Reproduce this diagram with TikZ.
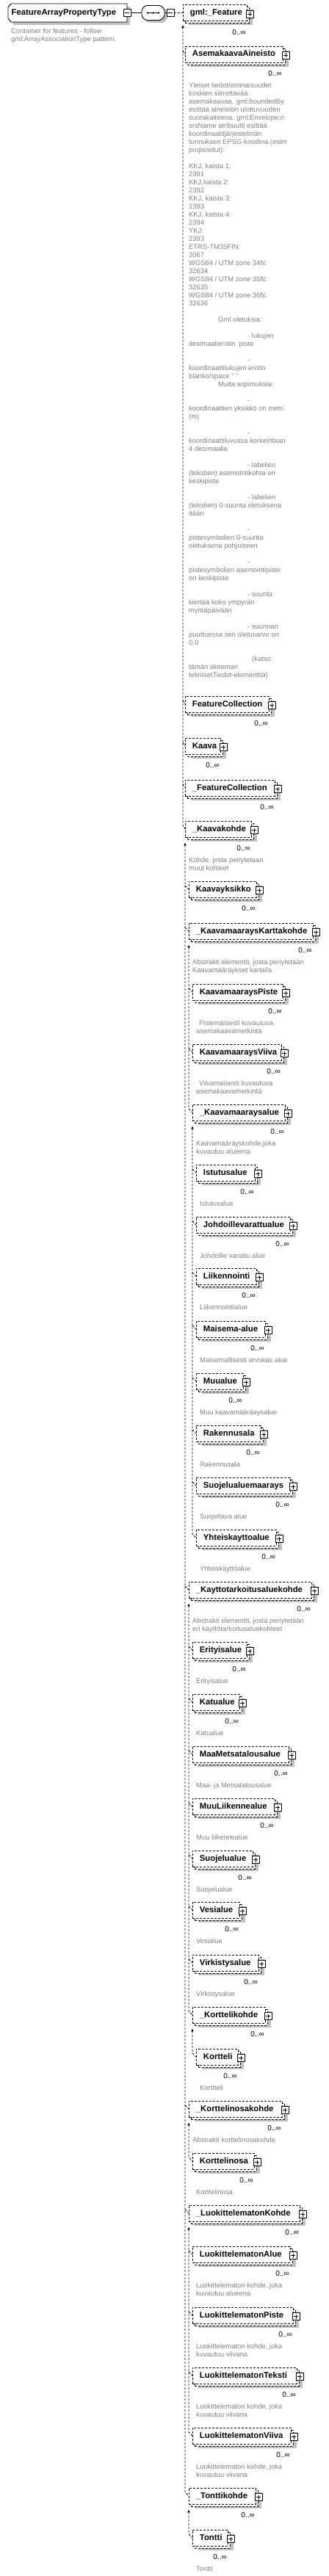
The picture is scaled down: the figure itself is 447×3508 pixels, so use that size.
\documentclass[tikz,border=0pt]{standalone}
\usepackage{fontspec}
\setmainfont{Liberation Sans}
\usetikzlibrary{arrows.meta,shadows}

\definecolor{shadowgray}{RGB}{192,192,192}
\definecolor{descgray}{RGB}{128,128,128}

\newcommand{\elemfont}{\fontsize{11.3}{13}\selectfont\bfseries}
\newcommand{\descfont}{\fontsize{9.4}{11}\selectfont}
\newcommand{\multfont}{\fontsize{10}{12}\selectfont}

\tikzset{
  conn/.style={draw, dash pattern=on 3pt off 2pt, line width=0.9pt},
  subst/.style={conn, arrows={Latex[length=4pt,width=4pt]-}},
  elem/.style={draw, fill=white, dash pattern=on 3pt off 2pt, line width=0.9pt,
    anchor=west, inner xsep=0pt, inner ysep=0pt, minimum height=22pt,
    text height=8pt, text depth=2pt, align=left, font=\elemfont,
    general shadow={fill=shadowgray, draw=none, shadow xshift=8pt, shadow yshift=-6pt},
    copy shadow={shadow xshift=3pt, shadow yshift=-3pt}},
  plusbox/.style={draw, solid, fill=white, line width=0.8pt, minimum size=10pt, inner sep=0pt,
    path picture={\draw[line width=0.8pt]
      ([xshift=2pt]path picture bounding box.west) -- ([xshift=-2pt]path picture bounding box.east)
      ([yshift=-2pt]path picture bounding box.north) -- ([yshift=2pt]path picture bounding box.south);}},
  minusbox/.style={draw, solid, fill=white, line width=0.8pt, minimum size=10pt, inner sep=0pt,
    path picture={\draw[line width=0.8pt]
      ([xshift=2pt]path picture bounding box.west) -- ([xshift=-2pt]path picture bounding box.east);}},
  mult/.style={font=\multfont, anchor=east, inner sep=0pt},
  desc/.style={font=\descfont, text=descgray, anchor=north west, inner sep=0pt, align=left},
  rootname/.style={font=\elemfont, inner sep=0pt, text height=8pt, text depth=2pt}
}

% elementti: nimi, x, y (keskikohta), leveys, teksti
\newcommand{\elem}[5]{%
  \node[elem, text width=#4pt] (#1) at (#2,#3) {\hspace*{9.5pt}#5};
  \node[plusbox] (#1-plus) at ([xshift=3pt,yshift=-1.5pt]#1.east) {};
  \node[mult] (#1-mult) at ([xshift=-2pt,yshift=-15pt]#1.south east) {0..∞};
}
\newcommand{\elemdesc}[2]{%
  \node[desc] (#1-desc) at ([xshift=5pt,yshift=-26pt]#1.south west) {\rule{0pt}{8pt}#2};
}

\begin{document}
\begin{tikzpicture}[x=1pt,y=-1pt]
\useasboundingbox (0,0) rectangle (447,3508);

% FeatureArrayPropertyType
\fill[shadowgray] (19,9) -- (177,9) -- (177,34) -- (19,34) -- (15,29) -- (15,14) -- cycle;
\draw[line width=0.9pt, fill=white] (15,5) -- (173,5) -- (173,30) -- (15,30) -- (11,25) -- (11,10) -- cycle;
\node[rootname, anchor=west] (root) at (15.5,17.5) {FeatureArrayPropertyType};
\node[minusbox] (root-minus) at (173,17.5) {};
\node[desc] (root-desc) at (15,37.5) {\rule{0pt}{8pt}Container for features - follow\\gml:ArrayAssociationType pattern.};

% sequence
\fill[shadowgray, rounded corners=2pt] (201,11) -- (223,11) -- (228,16) -- (228,26) -- (223,31) -- (201,31) -- (196,26) -- (196,16) -- cycle;
\draw[line width=0.9pt, fill=white, rounded corners=2pt] (198,7.5) -- (219,7.5) -- (224,12.5) -- (224,22.5) -- (219,27.5) -- (198,27.5) -- (193,22.5) -- (193,12.5) -- cycle;
\node[inner sep=0pt, minimum width=31pt, minimum height=20pt] (seq) at (208.5,17.5) {};
\draw[line width=0.9pt] (200,17.5) -- (217,17.5);
\foreach \d in {201,208.5,216}
  \fill (\d,17.5) circle (1.4pt);
\node[minusbox] (seq-minus) at (232,17.5) {};

% elementit
\elem{gmlFeature}{249}{17.5}{87}{gml:\_Feature}
\elem{AsemakaavaAineisto}{252}{74}{133}{AsemakaavaAineisto}
\elem{FeatureCollection}{252}{959}{114}{FeatureCollection}
\elem{Kaava}{252}{1016}{48}{Kaava}
\elem{FeatureCollectionAbs}{252}{1073}{122}{\_FeatureCollection}
\elem{Kaavakohde}{252}{1129}{90}{\_Kaavakohde}
\elem{Kaavayksikko}{257}{1211}{92}{Kaavayksikko}
\elem{KaavamaaraysKarttakohde}{257}{1268}{169}{\_KaavamaaraysKarttakohde}
\elem{KaavamaaraysPiste}{262}{1351}{123}{KaavamaaraysPiste}
\elem{KaavamaaraysViiva}{262}{1433}{121}{KaavamaaraysViiva}
\elem{Kaavamaaraysalue}{262}{1515}{126}{\_Kaavamaaraysalue}
\elem{Istutusalue}{267}{1597}{80}{Istutusalue}
\elem{Johdoillevarattualue}{267}{1668}{128}{Johdoillevarattualue}
\elem{Liikennointi}{267}{1738}{82}{Liikennointi}
\elem{Maisemaalue}{267}{1810}{94}{Maisema-alue}
\elem{Muualue}{267}{1881}{64}{Muualue}
\elem{Rakennusala}{267}{1952}{88}{Rakennusala}
\elem{Suojelualuemaarays}{267}{2023}{128}{Suojelualuemaarays}
\elem{Yhteiskayttoalue}{267}{2094}{109}{Yhteiskayttoalue}
\elem{Kayttotarkoitusaluekohde}{257}{2165}{167}{\_Kayttotarkoitusaluekohde}
\elem{Erityisalue}{262}{2247}{74}{Erityisalue}
\elem{Katualue}{262}{2318}{64}{Katualue}
\elem{MaaMetsatalousalue}{262}{2389}{131}{MaaMetsatalousalue}
\elem{MuuLiikennealue}{262}{2460}{112}{MuuLiikennealue}
\elem{Suojelualue}{262}{2531}{82}{Suojelualue}
\elem{Vesialue}{262}{2601}{64}{Vesialue}
\elem{Virkistysalue}{262}{2673}{90}{Virkistysalue}
\elem{Korttelikohde}{262}{2744}{99}{\_Korttelikohde}
\elem{Kortteli}{267}{2801}{57}{Kortteli}
\elem{Korttelinosakohde}{257}{2872}{127}{\_Korttelinosakohde}
\elem{Korttelinosa}{262}{2943}{84}{Korttelinosa}
\elem{LuokittelematonKohde}{257}{3014}{151}{\_LuokittelematonKohde}
\elem{LuokittelematonAlue}{262}{3070}{133}{LuokittelematonAlue}
\elem{LuokittelematonPiste}{262}{3153}{137}{LuokittelematonPiste}
\elem{LuokittelematonTeksti}{262}{3235}{142}{LuokittelematonTeksti}
\elem{LuokittelematonViiva}{262}{3317}{134}{LuokittelematonViiva}
\elem{Tonttikohde}{257}{3399}{91}{\_Tonttikohde}
\elem{Tontti}{262}{3456}{48}{Tontti}

% kuvaukset
\elemdesc{AsemakaavaAineisto}{Yleiset tiedot/ominaisuudet\\
koskien siirrettävää\\
asemakaavaa. gml:boundedBy\\
esittää aineiston ulottuvuuden\\
suorakaiteena. gml:Envelope:n\\
srsName atribuutti esittää\\
koordinaattijärjestelmän\\
tunnuksen EPSG-koodina (esim\\
projisoidut):\\
\mbox{}\\
KKJ, kaista 1:\\
2391\\
KKJ,kaista 2:\\
2392\\
KKJ, kaista 3:\\
2393\\
KKJ, kaista 4:\\
2394\\
YKJ:\\
2393\\
ETRS-TM35FIN:\\
3067\\
WGS84 / UTM zone 34N:\\
32634\\
WGS84 / UTM zone 35N:\\
32635\\
WGS84 / UTM zone 36N:\\
32636\\
\mbox{}\\
\hspace*{40pt}Gml oletuksia:\\
\mbox{}\\
\hspace*{80pt}- lukujen\\
desimaalierotin\ \ piste\\
\mbox{}\\
\hspace*{80pt}-\\
koordinaattilukujen erotin\\
blanko/space " "\\
\hspace*{40pt}Muita sopimuksia:\\
\mbox{}\\
\hspace*{80pt}-\\
koordinaattien yksikkö on metri\\
(m)\\
\mbox{}\\
\hspace*{80pt}-\\
koordinaattiluvussa korkeintaan\\
4 desimaalia\\
\mbox{}\\
\hspace*{80pt}- labelien\\
(tekstien) asemointikohta on\\
keskipiste\\
\mbox{}\\
\hspace*{80pt}- labelien\\
(tekstien) 0-suunta oletuksena\\
itään\\
\mbox{}\\
\hspace*{80pt}-\\
pistesymbolien 0-suunta\\
oletuksena pohjoiseen\\
\mbox{}\\
\hspace*{80pt}-\\
pistesymbolien asemointipiste\\
on keskipiste\\
\mbox{}\\
\hspace*{80pt}- suunta\\
kiertää koko ympyrän\\
myötäpäivään\\
\mbox{}\\
\hspace*{80pt}- suunnan\\
puuttuessa sen oletusarvo on\\
0.0\\
\mbox{}\\
\hspace*{86pt}(katso:\\
tämän skeeman\\
teknisetTiedot-elementtiä)}
\elemdesc{Kaavakohde}{Kohde, josta periytetaan\\muut kohteet}
\elemdesc{KaavamaaraysKarttakohde}{Abstrakti elementti, josta periytetään\\Kaavamääräykset kartalla}
\elemdesc{KaavamaaraysPiste}{\hspace*{4pt}Pistemäisesti kuvautuva\\asemakaavamerkintä}
\elemdesc{KaavamaaraysViiva}{\hspace*{4pt}Viivamaisesti kuvautuva\\asemakaavamerkintä}
\elemdesc{Kaavamaaraysalue}{Kaavamääräyskohde,joka\\kuvautuu alueena}
\elemdesc{Istutusalue}{Istutusalue}
\elemdesc{Johdoillevarattualue}{Johdoille varattu alue}
\elemdesc{Liikennointi}{Liikennointialue}
\elemdesc{Maisemaalue}{Maisemallisesti arvokas alue}
\elemdesc{Muualue}{Muu kaavamääräaysalue}
\elemdesc{Rakennusala}{Rakennusala}
\elemdesc{Suojelualuemaarays}{Suojeltava alue}
\elemdesc{Yhteiskayttoalue}{Yhteiskäyttöalue}
\elemdesc{Kayttotarkoitusaluekohde}{Abstrakti elementti, josta periytetään\\eri käyttötarkoitusaluekohteet}
\elemdesc{Erityisalue}{Erityisalue}
\elemdesc{Katualue}{Katualue}
\elemdesc{MaaMetsatalousalue}{Maa- ja Metsatalousalue}
\elemdesc{MuuLiikennealue}{Muu liikennealue}
\elemdesc{Suojelualue}{Suojelualue}
\elemdesc{Vesialue}{Vesialue}
\elemdesc{Virkistysalue}{Virkistysalue}
\elemdesc{Kortteli}{Korttteli}
\elemdesc{Korttelinosakohde}{Abstrakti korttelinosakohde}
\elemdesc{Korttelinosa}{Korttelinosa}
\elemdesc{LuokittelematonAlue}{Luokittelematon kohde, joka\\kuvautuu alueena}
\elemdesc{LuokittelematonPiste}{Luokittelematon kohde, joka\\kuvautuu viivana}
\elemdesc{LuokittelematonTeksti}{Luokittelematon kohde, joka\\kuvautuu viivana}
\elemdesc{LuokittelematonViiva}{Luokittelematon kohde, joka\\kuvautuu viivana}
\elemdesc{Tontti}{Tontti}

% yhteydet
\draw[line width=0.9pt] (root-minus) -- (seq);
\draw[line width=0.9pt] (seq) -- (seq-minus);
\draw[conn] (seq-minus) -- (gmlFeature);

% korvausryhmat
\draw[subst] ([yshift=-5pt]gmlFeature.south west) -- ([yshift=5pt]gmlFeature.south west |- Kaavakohde.west) -- (Kaavakohde.west);
\foreach \m in {AsemakaavaAineisto,FeatureCollection,Kaava,FeatureCollectionAbs}
  \draw[conn] ([yshift=5pt]gmlFeature.south west |- \m.west) -- (\m.west);

\draw[subst] ([yshift=-7pt]Kaavakohde.south west) -- ([yshift=5pt]Kaavakohde.south west |- Tonttikohde.west) -- (Tonttikohde.west);
\foreach \m in {Kaavayksikko,KaavamaaraysKarttakohde,Kayttotarkoitusaluekohde,Korttelinosakohde,LuokittelematonKohde}
  \draw[conn] ([yshift=5pt]Kaavakohde.south west |- \m.west) -- (\m.west);

\draw[subst] ([yshift=-7pt]KaavamaaraysKarttakohde.south west) -- ([yshift=5pt]KaavamaaraysKarttakohde.south west |- Kaavamaaraysalue.west) -- (Kaavamaaraysalue.west);
\foreach \m in {KaavamaaraysPiste,KaavamaaraysViiva}
  \draw[conn] ([yshift=5pt]KaavamaaraysKarttakohde.south west |- \m.west) -- (\m.west);

\draw[subst] ([yshift=-7pt]Kaavamaaraysalue.south west) -- ([yshift=5pt]Kaavamaaraysalue.south west |- Yhteiskayttoalue.west) -- (Yhteiskayttoalue.west);
\foreach \m in {Istutusalue,Johdoillevarattualue,Liikennointi,Maisemaalue,Muualue,Rakennusala,Suojelualuemaarays}
  \draw[conn] ([yshift=5pt]Kaavamaaraysalue.south west |- \m.west) -- (\m.west);

\draw[subst] ([yshift=-7pt]Kayttotarkoitusaluekohde.south west) -- ([yshift=5pt]Kayttotarkoitusaluekohde.south west |- Korttelikohde.west) -- (Korttelikohde.west);
\foreach \m in {Erityisalue,Katualue,MaaMetsatalousalue,MuuLiikennealue,Suojelualue,Vesialue,Virkistysalue}
  \draw[conn] ([yshift=5pt]Kayttotarkoitusaluekohde.south west |- \m.west) -- (\m.west);

\draw[subst] ([yshift=-7pt]Korttelikohde.south west) -- ([yshift=5pt]Korttelikohde.south west |- Kortteli.west) -- (Kortteli.west);

\draw[subst] ([yshift=-7pt]Korttelinosakohde.south west) -- ([yshift=5pt]Korttelinosakohde.south west |- Korttelinosa.west) -- (Korttelinosa.west);

\draw[subst] ([yshift=-7pt]LuokittelematonKohde.south west) -- ([yshift=5pt]LuokittelematonKohde.south west |- LuokittelematonViiva.west) -- (LuokittelematonViiva.west);
\foreach \m in {LuokittelematonAlue,LuokittelematonPiste,LuokittelematonTeksti}
  \draw[conn] ([yshift=5pt]LuokittelematonKohde.south west |- \m.west) -- (\m.west);

\draw[subst] ([yshift=-7pt]Tonttikohde.south west) -- ([yshift=5pt]Tonttikohde.south west |- Tontti.west) -- (Tontti.west);

\end{tikzpicture}
\end{document}
